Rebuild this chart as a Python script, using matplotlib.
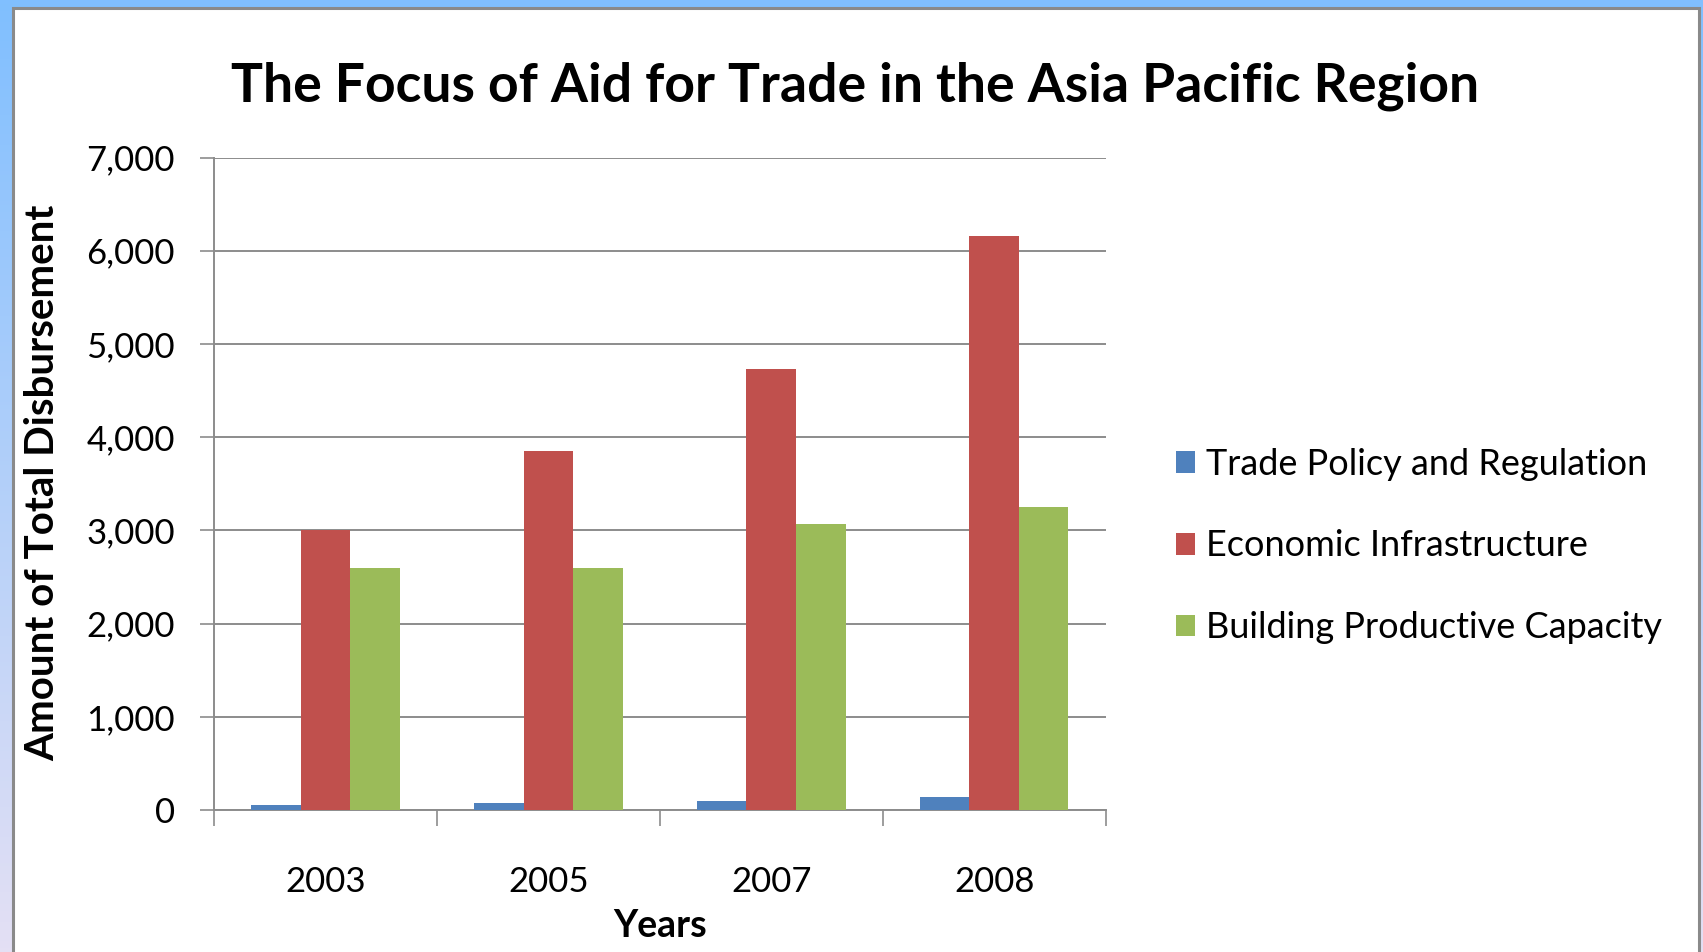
import numpy as np
import matplotlib.pyplot as plt
from matplotlib.patches import Rectangle

years = ["2003", "2005", "2007", "2008"]
series_names = ["Trade Policy and Regulation", "Economic Infrastructure", "Building Productive Capacity"]
trade_policy = [50, 75, 100, 140]
economic_infra = [3000, 3855, 4730, 6160]
productive_cap = [2600, 2600, 3070, 3250]
y_ticks = [0, 1000, 2000, 3000, 4000, 5000, 6000, 7000]

colors = ["#4F81BD", "#C0504D", "#9BBB59"]
grid_col = "#8c8c8c"
W, H = 1703, 952

plt.rcParams["font.family"] = ["Lato", "DejaVu Sans"]

fig = plt.figure(figsize=(W / 100, H / 100), dpi=100)

# slide background: blue to lavender, with the white chart panel on top
bg = fig.add_axes([0, 0, 1, 1])
bg.set_xlim(0, W); bg.set_ylim(H, 0); bg.axis("off")
grad = np.linspace(0, 1, 256)[:, None]
top = np.array([0x80, 0xBF, 0xFF]) / 255
bot = np.array([0xE4, 0xE0, 0xF4]) / 255
img = top[None, None, :] * (1 - grad[..., None]) + bot[None, None, :] * grad[..., None]
bg.imshow(img, extent=[0, W, H, 0], aspect="auto", zorder=0)
bg.add_patch(Rectangle((12.5, 7.5), 1686, 960, facecolor="white",
                       edgecolor="#8a8a8a", linewidth=2.2, zorder=1))

ax = fig.add_axes([214 / W, 1 - 810 / H, (1105.6 - 214) / W, (810 - 157.5) / H])
x = np.arange(len(years))
w = 1 / 4.5
for k, (vals, c, name) in enumerate(zip([trade_policy, economic_infra, productive_cap], colors, series_names)):
    ax.bar(x + (k - 1) * w, vals, width=w, color=c, label=name, zorder=3)

ax.set_xlim(-0.5, len(years) - 0.5)
ax.set_ylim(0, 7000)
ax.set_yticks(y_ticks)
ax.set_yticklabels([f"{v:,}" for v in y_ticks])
ax.yaxis.grid(True, color=grid_col, linewidth=1.4, zorder=0)
ax.set_axisbelow(True)

ax.set_xticks(np.arange(-0.5, len(years), 1.0))
ax.set_xticklabels([])
ax.set_xticks(x, minor=True)
ax.set_xticklabels(years, minor=True)
ax.tick_params(axis="x", which="major", length=11.5, width=1.2, color=grid_col)
ax.tick_params(axis="x", which="minor", length=0, pad=40, labelsize=25)
ax.tick_params(axis="y", length=10, width=1.2, color=grid_col, pad=18, labelsize=25)

for s in ["top", "right"]:
    ax.spines[s].set_visible(False)
for s in ["left", "bottom"]:
    ax.spines[s].set_color(grid_col)
    ax.spines[s].set_linewidth(1.4)

fig.text(855 / W, 1 - 86 / H, "The Focus of Aid for Trade in the Asia Pacific Region",
         ha="center", va="center", fontsize=38.5, fontweight="bold")
fig.text(43 / W, 1 - 483 / H, "Amount of Total Disbursement", rotation=90,
         ha="center", va="center", fontsize=29, fontweight="bold")
fig.text(660 / W, 1 - 926 / H, "Years", ha="center", va="center",
         fontsize=27, fontweight="bold")

ax.legend(loc="center left", bbox_to_anchor=(1143 / W, 1 - 546 / H),
          bbox_transform=fig.transFigure, frameon=False, fontsize=26,
          handlelength=0.55, handleheight=0.55, handletextpad=0.3, labelspacing=1.35)

fig.savefig("out.png", dpi=100)
